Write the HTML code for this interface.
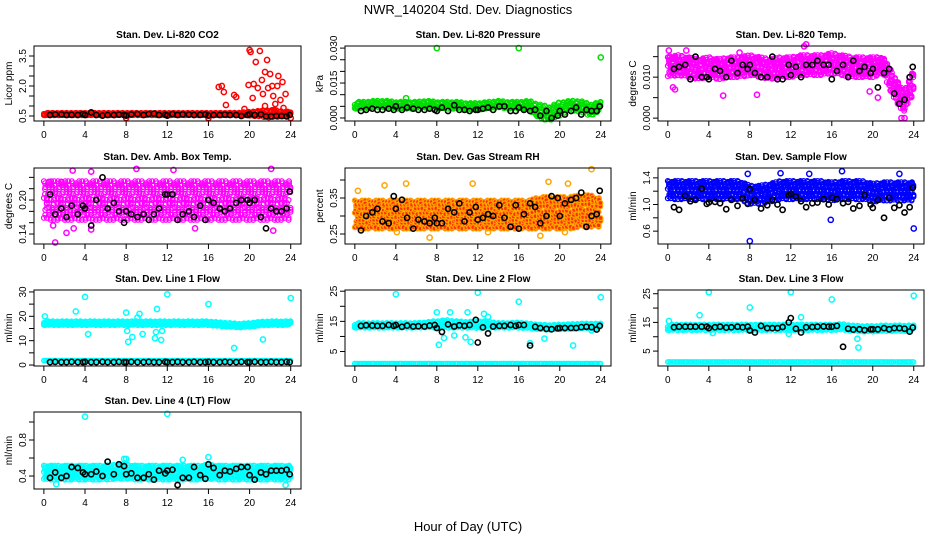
<!DOCTYPE html>
<html><head><meta charset="utf-8">
<style>
body{margin:0;background:#fff;width:936px;height:540px;overflow:hidden;font-family:"Liberation Sans",sans-serif}
svg text{font-family:"Liberation Sans",sans-serif}
</style></head>
<body>
<svg id="chart" width="936" height="540" viewBox="0 0 936 540" xmlns="http://www.w3.org/2000/svg">
<text x="468" y="14" text-anchor="middle" font-size="13">NWR_140204  Std. Dev. Diagnostics</text>
<text x="468" y="531" text-anchor="middle" font-size="13">Hour of Day (UTC)</text>
</svg>
<script>
const xTicks=[0,4,8,12,16,20,24];
const blackHours=[0.6,1.1,1.7,2.2,2.7,3.3,3.8,4.0,4.6,5.1,5.7,6.2,6.8,7.3,7.8,8.0,8.5,9.1,9.7,10.2,10.7,11.2,11.8,12.0,12.5,13.0,13.5,14.1,14.6,15.2,15.7,16.0,16.5,17.1,17.6,18.1,18.7,19.2,19.8,20.0,20.5,21.1,21.6,22.1,22.6,23.1,23.6,23.9];
const bandHours=[0,1,2,3,4,5,6,7,8,9,10,11,12,13,14,15,16,17,18,19,20,21,22,23,24];

const co2Center=[.6,.6,.6,.6,.6,.6,.6,.6,.6,.6,.6,.6,.6,.6,.6,.6,.6,.6,.6,.6,.62,.62,.62,.62,.6];
const co2Half=[.06,.06,.06,.06,.06,.06,.06,.06,.06,.06,.06,.06,.06,.06,.06,.06,.06,.06,.06,.07,.1,.15,.2,.15,.08];
const co2Black=[.55,.58,.58,.55,.56,.55,.6,.55,.68,.55,.52,.55,.55,.57,.55,.52,.58,.6,.55,.6,.62,.55,.56,.52,.6,.55,.58,.57,.55,.56,.58,.52,.55,.55,.57,.55,.55,.5,.55,.6,.55,.58,.48,.48,.5,.5,.48,.55];
const co2OutX=[17,17.3,17.5,17.7,18.5,18.7,19.5,19.9,20,20.1,20.3,20.4,20.6,20.8,21,21.2,21.3,21.5,21.7,21.8,22,22.2,22.3,22.5,22.7,22.8,23,23.2,23.3,23.5,21.5,22.4,23.7,24,16,8];
const co2OutY=[1.95,2.0,1.7,1.05,1.55,1.45,.85,2.05,3.8,3.7,1.4,2.1,3.2,1.9,3.75,2.3,1.6,2.7,3.3,1.9,2.6,2.0,1.5,1.1,2.0,2.5,1.3,2.2,.9,1.6,1.0,.8,.7,.4,.4,.4];

const presCenter=[.0055,.0055,.006,.006,.0055,.0055,.0055,.006,.0055,.0055,.0055,.005,.005,.0055,.006,.0055,.0055,.0055,.003,.002,.004,.0055,.005,.0035,.005];
const presHalf=[.0015,.0015,.0015,.0015,.0015,.0015,.0015,.0015,.0015,.0015,.0015,.0015,.0015,.0015,.0015,.0015,.0015,.002,.003,.003,.003,.002,.0025,.0025,.002];
const presBlack=[.003,.0035,.004,.0035,.0035,.004,.0035,.005,.0035,.0045,.004,.0035,.0035,.004,.0035,.003,.0045,.003,.0055,.0035,.0035,.003,.0035,.0035,.004,.0045,.0035,.005,.005,.003,.003,.0045,.0035,.003,.0035,.001,.003,0,.001,.003,.0015,.003,.0045,.0015,.0035,.003,.003,.005];
const presOutX=[8,16,24,5,18.5];
const presOutY=[.030,.030,.026,.0085,-.0005];

const tempCenter=[.0125,.013,.0125,.012,.0125,.012,.0125,.0125,.013,.0125,.012,.0125,.0125,.013,.013,.013,.0135,.013,.0125,.0125,.0125,.013,.008,.004,.009];
const tempHalf=[.0025,.0025,.0025,.0025,.0025,.0025,.0025,.0025,.0025,.0025,.0025,.0025,.0025,.0025,.0025,.0025,.0025,.0025,.0025,.0025,.0025,.002,.003,.0025,.003];
const tempBlack=[.012,.0125,.013,.0095,.015,.01,.01,.0095,.012,.0115,.01,.014,.011,.013,.012,.013,.011,.01,.01,.015,.0095,.0095,.013,.0105,.0125,.01,.013,.013,.014,.013,.013,.0095,.0115,.013,.01,.014,.0115,.0125,.011,.012,.0075,.011,.012,.006,.0035,.0045,.01,.0125];
const tempOutX=[0.1,0.2,0.5,0.7,1.8,5.4,7.0,8.7,13.5,13.3,19.7,20.5,22.8,23.1];
const tempOutY=[.0165,.015,.0075,.007,.0165,.0055,.016,.0057,.018,.0175,.0065,.005,0,0];

const ambCenter=[.2,.2,.2,.2,.2,.2,.2,.2,.2,.2,.2,.2,.2,.2,.2,.2,.2,.2,.2,.2,.2,.2,.2,.2,.2];
const ambHalf=[.035,.035,.035,.035,.035,.035,.035,.035,.035,.035,.035,.035,.035,.035,.035,.035,.035,.035,.035,.035,.035,.035,.035,.035,.035];
const ambBlack=[.21,.175,.185,.17,.19,.175,.19,.185,.155,.2,.24,.185,.195,.18,.16,.18,.175,.17,.175,.165,.175,.185,.21,.21,.21,.165,.175,.18,.17,.19,.165,.2,.195,.185,.18,.185,.195,.2,.2,.195,.2,.17,.15,.185,.18,.18,.185,.215];
const ambOutX=[1.1,2.2,0.9,2.9,4.6,14.7,22.3,9.0,22.1,4.6,12.6,2.8,0.5,1.7];
const ambOutY=[.125,.142,.155,.15,.148,.15,.146,.255,.255,.25,.253,.252,.232,.232];

const rhCenter=[.305,.305,.305,.305,.305,.305,.305,.305,.305,.305,.305,.305,.305,.305,.305,.305,.305,.305,.31,.31,.31,.31,.315,.315,.31];
const rhHalf=[.04,.04,.04,.04,.04,.04,.04,.04,.04,.04,.04,.04,.04,.04,.04,.04,.04,.04,.045,.045,.045,.045,.045,.045,.04];
const rhBlack=[.26,.3,.31,.32,.285,.28,.355,.32,.345,.295,.265,.29,.285,.28,.295,.28,.28,.32,.31,.335,.285,.31,.325,.29,.295,.305,.3,.33,.295,.27,.33,.265,.305,.335,.325,.28,.3,.355,.35,.3,.335,.345,.35,.365,.27,.3,.305,.37];
const rhOutX=[23.1,18.9,11.5,2.9,5.0,7.3,13,18.1,4.1,0.3,20.5,20.8];
const rhOutY=[.43,.395,.39,.385,.39,.24,.255,.245,.255,.37,.255,.39];

const flowCenter=[1.22,1.22,1.22,1.22,1.22,1.22,1.22,1.22,1.15,1.15,1.18,1.22,1.22,1.22,1.22,1.22,1.2,1.22,1.22,1.22,1.18,1.2,1.2,1.2,1.2];
const flowHalf=[.14,.14,.14,.14,.14,.14,.14,.14,.14,.14,.14,.14,.14,.14,.14,.14,.14,.14,.14,.14,.14,.14,.14,.14,.14];
const flowBlack=[.96,.92,1.13,1.05,1.07,1.24,1.01,1.03,1.04,1.02,.93,1.07,.98,1.09,1.01,1.23,1.07,.94,.99,1.07,1.0,.92,1.14,1.16,1.12,1.05,.96,1.02,1.03,1.08,1.0,1.1,1.08,1.02,1.04,.94,.98,1.14,1.0,.95,1.07,.8,1.1,.95,.99,.88,.96,1.25];
const flowOutX=[8,15.9,24,17,11,13.8,7.8,22.6];
const flowOutY=[.45,.77,.64,1.5,1.47,1.46,1.46,1.46];

const l1Center=[17.2,17.2,17.2,17.2,17.2,17.2,17.2,17.2,17.2,17.2,17.2,17.2,17.2,17.2,17.2,17.2,17.2,16.8,16.5,16.2,16.5,17,17.2,17.2,17.2];
const l1Half=[.8,.8,.8,.8,.8,.8,.8,.8,.8,.8,.8,.8,.8,.8,.8,.8,.8,.8,.8,.8,.8,.8,.8,.8,.8];
const l1Base=[1.8,1.8,1.8,1.8,1.8,1.8,1.8,1.8,1.8,1.8,1.8,1.8,1.8,1.8,1.8,1.8,1.8,1.8,1.8,1.8,1.8,1.8,1.8,1.8,1.8];
const l1Black=[1.2,1.3,1.2,1.2,1.3,1.2,1.2,1.3,1.2,1.2,1.3,1.2,1.2,1.3,1.2,1.2,1.3,1.2,1.2,1.3,1.2,1.2,1.3,1.2,1.2,1.3,1.2,1.2,1.3,1.2,1.2,1.3,1.2,1.2,1.3,1.2,1.2,1.3,1.2,1.2,1.3,1.2,1.2,1.3,1.2,1.2,1.3,1.2];
const l1OutX=[0.1,3.1,4,4.3,8,8.1,8.2,8.6,9.3,9.6,10.8,10.9,11,11.4,11.5,12,16,18.5,21.3,24,9.1];
const l1OutY=[20,22,28,12.7,21.5,14,9.5,11.5,21,12.7,11,13.5,23,10.3,14,29,25,7,10.5,27.5,19.5];

const l2Center=[13.7,13.7,13.7,13.7,13.7,13.7,13.7,13.9,14,14.2,14,13.9,14,14,13.7,13.7,13.8,13.5,13.2,13,13.2,13.3,13.5,13.5,13.5];
const l2Half=[.8,.8,.8,.8,.8,.8,.8,.9,1.2,1.3,1.1,1,1.2,1.1,.8,.8,.9,.8,.8,.8,.8,.8,.8,.8,.8];
const l2Base=[1,1,1,1,1,1,1,1,1,1,1,1,1,1,1,1,1,1,1,1,1,1,1,1,1];
const l2Black=[13.5,13.7,13.6,13.5,13.5,13.8,13.5,13.8,13.2,13.6,13.3,13.4,13.3,13.6,13.8,12.8,11.5,14,13.3,13.7,13.5,13.8,15.5,8,13,11,13.3,13.5,13.5,13.8,13.5,13.8,13.8,7,13.2,12.8,12.5,12.4,12.7,12.8,12.8,12.8,12.8,13.1,13.2,13.1,12.3,13.5];
const l2OutX=[4,12,24,16,8,8.2,9.3,11,8.7,9.7,10.8,11.3,12.6,13,17.1,18.5,21.3,23.1];
const l2OutY=[24,24.5,23,21.5,18,7.2,18,18,9.5,10.3,9.7,8.2,17.5,16.5,7.8,9.3,7,12];

const l3Center=[13.3,13.3,13.3,13.3,13.3,13.3,13.3,13.3,13.3,13.3,13.3,13.3,13.3,13.3,13.3,13.3,13.3,13.5,13,12.8,12.8,13,13,13,13];
const l3Half=[1,1,1,1,1,1,1,1,1,1,1,1,1,1,1,1,1,1,1,1,1,1,1,1,1];
const l3Base=[1.2,1.2,1.2,1.2,1.2,1.2,1.2,1.2,1.2,1.2,1.2,1.2,1.2,1.2,1.2,1.2,1.2,1.2,1.2,1.2,1.2,1.2,1.2,1.2,1.2];
const l3Black=[13.3,13.5,13.5,13.5,13.5,13.5,13.5,13,13.3,13.5,13.2,13.3,13.5,13.3,13.5,12.2,11.5,13.8,13,13,13,13.4,15,16.5,12.8,11.5,13.3,13.4,13.5,13.6,13.5,13.5,13.8,6.5,12.8,12.5,12.6,12.3,12.6,12.6,12.6,13,12.6,13,13,12.8,11.8,13.2];
const l3OutX=[4,12,24,16,8,3.1,13,0.1,18.5,18.6,4.4,11.8];
const l3OutY=[25.5,25.5,24.3,23,20.2,17.5,16.8,15.5,9.3,6.2,11.3,11];

const l4Center=[.44,.44,.44,.44,.44,.44,.44,.45,.45,.44,.44,.44,.44,.44,.44,.44,.45,.44,.44,.44,.44,.44,.44,.44,.44];
const l4Half=[.08,.08,.08,.08,.08,.08,.08,.08,.08,.08,.08,.08,.08,.08,.08,.08,.08,.08,.08,.08,.08,.08,.08,.08,.08];
const l4Black=[.38,.44,.38,.4,.5,.49,.44,.42,.42,.45,.4,.56,.42,.53,.51,.42,.43,.38,.38,.42,.36,.46,.43,.46,.47,.3,.38,.38,.5,.41,.37,.53,.49,.41,.46,.45,.48,.5,.5,.41,.36,.44,.42,.46,.46,.46,.47,.42];
const l4OutX=[4,12,1.2,23.5,16,13.5,8,7.8];
const l4OutY=[1.06,1.09,.31,.3,.61,.58,.59,.59];

const svg=document.getElementById('chart');
const NS='http://www.w3.org/2000/svg';
const colX=[[34,301],[345,611],[658,924]];
const rowY=[[46,121],[168,244],[290,366],[412,489]];
function mk(tag,attrs,parent){const e=document.createElementNS(NS,tag);for(const k in attrs)e.setAttribute(k,attrs[k]);(parent||svg).appendChild(e);return e;}
function interp(arr,t){const i=Math.min(23,Math.floor(t));const f=t-i;return arr[i]*(1-f)+arr[i+1]*f;}

const panels=[
 {title:'Stan. Dev. Li-820 CO2',ylab:'Licor ppm',c:0,r:0,ymin:.25,ymax:4.0,ticks:[.5,1,1.5,2,2.5,3,3.5],labels:['0.5','2.0','3.5'],labelAt:[.5,2,3.5],col:'#ff0000',center:co2Center,half:co2Half,black:co2Black,ox:co2OutX,oy:co2OutY},
 {title:'Stan. Dev. Li-820 Pressure',ylab:'kPa',c:1,r:0,ymin:-.0013,ymax:.0309,ticks:[0,.005,.01,.015,.02,.025,.03],labels:['0.000','0.015','0.030'],labelAt:[0,.015,.03],col:'#00e000',center:presCenter,half:presHalf,black:presBlack,ox:presOutX,oy:presOutY},
 {title:'Stan. Dev. Li-820 Temp.',ylab:'degrees C',c:2,r:0,ymin:-.0007,ymax:.0176,ticks:[0,.005,.01,.015],labels:['0.000','0.010'],labelAt:[0,.01],col:'#ff00ff',center:tempCenter,half:tempHalf,black:tempBlack,ox:tempOutX,oy:tempOutY},
 {title:'Stan. Dev. Amb. Box Temp.',ylab:'degrees C',c:0,r:1,ymin:.1224,ymax:.2565,ticks:[.14,.16,.18,.2,.22,.24],labels:['0.14','0.20'],labelAt:[.14,.2],col:'#ff00ff',center:ambCenter,half:ambHalf,black:ambBlack,ox:ambOutX,oy:ambOutY},
 {title:'Stan. Dev. Gas Stream RH',ylab:'percent',c:1,r:1,ymin:.2222,ymax:.4333,ticks:[.25,.3,.35,.4],labels:['0.25','0.35'],labelAt:[.25,.35],col:'#ffa500',inner:'#ff3000',center:rhCenter,half:rhHalf,black:rhBlack,ox:rhOutX,oy:rhOutY},
 {title:'Stan. Dev. Sample Flow',ylab:'ml/min',c:2,r:1,ymin:.407,ymax:1.548,ticks:[.6,.8,1,1.2,1.4],labels:['0.6','1.0','1.4'],labelAt:[.6,1,1.4],col:'#0000ff',center:flowCenter,half:flowHalf,black:flowBlack,ox:flowOutX,oy:flowOutY},
 {title:'Stan. Dev. Line 1 Flow',ylab:'ml/min',c:0,r:2,ymin:-.4,ymax:30.8,ticks:[0,5,10,15,20,25,30],labels:['0','10','20','30'],labelAt:[0,10,20,30],col:'#00ffff',center:l1Center,half:l1Half,base:l1Base,black:l1Black,ox:l1OutX,oy:l1OutY},
 {title:'Stan. Dev. Line 2 Flow',ylab:'ml/min',c:1,r:2,ymin:.2,ymax:25.4,ticks:[5,10,15,20,25],labels:['5','15','25'],labelAt:[5,15,25],col:'#00ffff',center:l2Center,half:l2Half,base:l2Base,black:l2Black,ox:l2OutX,oy:l2OutY},
 {title:'Stan. Dev. Line 3 Flow',ylab:'ml/min',c:2,r:2,ymin:-.2,ymax:26.3,ticks:[5,10,15,20,25],labels:['5','15','25'],labelAt:[5,15,25],col:'#00ffff',center:l3Center,half:l3Half,base:l3Base,black:l3Black,ox:l3OutX,oy:l3OutY},
 {title:'Stan. Dev. Line 4 (LT) Flow',ylab:'ml/min',c:0,r:3,ymin:.256,ymax:1.111,ticks:[.4,.6,.8,1.0],labels:['0.4','0.8'],labelAt:[.4,.8],col:'#00ffff',center:l4Center,half:l4Half,black:l4Black,ox:l4OutX,oy:l4OutY}
];
const offs=[-.9,.4,-.2,.85,-.6,.1,.65,-1,.3,-.4,.95,-.75,0,.55,-.15,.75,-.5];
const dx=[0,.03,-.02,.04,-.03,.01,.02,-.04,.03,-.01,.04,-.02,.01,-.03,.02,0,.03];

panels.forEach((p,pi)=>{
 const [x0,x1]=colX[p.c],[y0,y1]=rowY[p.r];
 const sx=h=>x0+(h+0.96)/(25.96)*(x1-x0);
 const sy=v=>y1-(v-p.ymin)/(p.ymax-p.ymin)*(y1-y0);
 const g=mk('g',{});
 
 
 const t=mk('text',{x:(x0+x1)/2,y:y0-8,'text-anchor':'middle','font-size':'10','font-weight':'bold'},g);
 
 
 t.textContent=p.title;
 const clip=mk('g',{},g);
 const pts=p.half[0]/(p.ymax-p.ymin)*(y1-y0)>6?3:2;
 for(let k=0;k<=300;k++){
  const h=Math.min(24,Math.max(0,k*0.08+dx[k%dx.length]));
  const c=interp(p.center,h),hw=interp(p.half,h);
  for(let j=0;j<pts;j++){
   const o=offs[(k*pts+j*5)%offs.length];
   const cy=sy(c+o*hw);
   const e=mk('circle',{cx:sx(h).toFixed(1),cy:cy.toFixed(1),r:2.4,fill:p.inner||'none',stroke:p.col,'stroke-width':1.2},clip);
   
   
  }
  if(p.base&&k%2==0){
   const e=mk('circle',{cx:sx(h).toFixed(1),cy:sy(interp(p.base,h)).toFixed(1),r:2.3,fill:'none',stroke:p.col,'stroke-width':1.2},clip);
   
   
  }
 }
 p.ox.forEach((h,i)=>{
  const e=mk('circle',{cx:sx(h),cy:sy(p.oy[i]),r:2.6,fill:'none',stroke:p.col,'stroke-width':1.5},clip);
  
  
 });
 blackHours.forEach((h,i)=>{
  const e=mk('circle',{cx:sx(h),cy:sy(p.black[i]),r:2.6,fill:'none',stroke:'#000','stroke-width':1.6},clip);
  
  
 });
 const box=mk('rect',{x:x0,y:y0,width:x1-x0,height:y1-y0,fill:'none',stroke:'#000','stroke-width':1},g);
 
 
 xTicks.forEach(v=>{
  mk('line',{x1:sx(v),x2:sx(v),y1:y1,y2:y1+5,stroke:'#000'},g);
  const l=mk('text',{x:sx(v),y:y1+17,'text-anchor':'middle','font-size':'10'},g);
  
  
  l.textContent=v;
 });
 p.ticks.forEach(v=>{mk('line',{x1:x0-5,x2:x0,y1:sy(v),y2:sy(v),stroke:'#000'},g);});
 p.labels.forEach((s,i)=>{
  const yy=sy(p.labelAt[i]);
  const l=mk('text',{x:x0-8,y:yy,'text-anchor':'middle','font-size':'10',transform:`rotate(-90 ${x0-8} ${yy})`},g);
  
  
  l.textContent=s;
 });
 const yl=mk('text',{x:x0-22,y:(y0+y1)/2,'text-anchor':'middle','font-size':'10',transform:`rotate(-90 ${x0-22} ${(y0+y1)/2})`},g);
 
 
 yl.textContent=p.ylab;
});
</script>
</body></html>
